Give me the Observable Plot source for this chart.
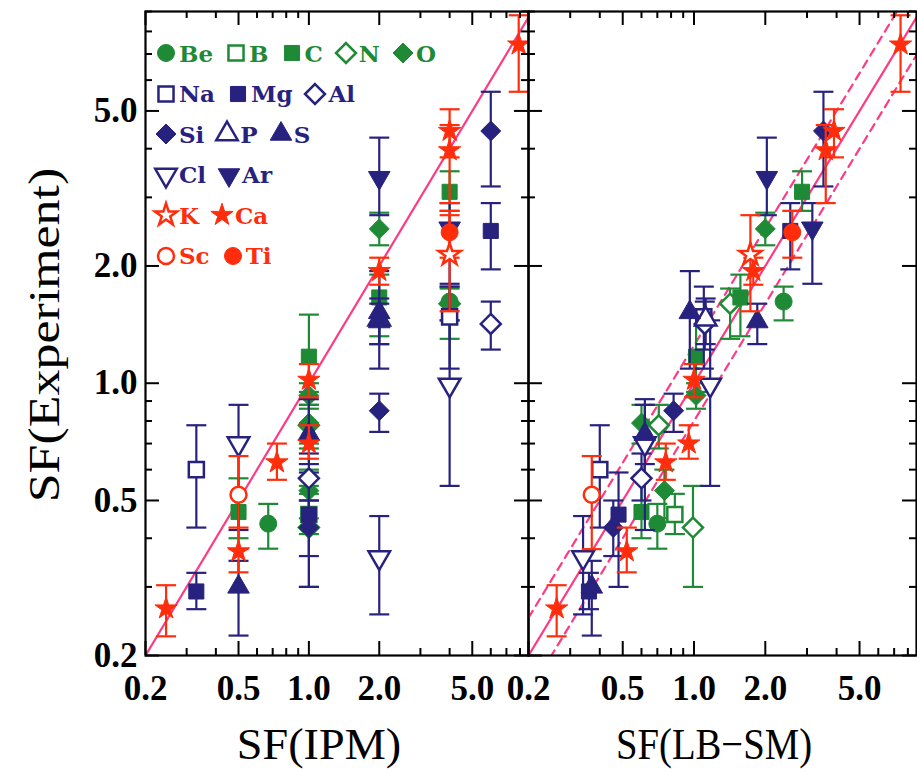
<!DOCTYPE html>
<html><head><meta charset="utf-8">
<script src="https://cdn.jsdelivr.net/npm/d3@7"></script>
<script src="https://cdn.jsdelivr.net/npm/@observablehq/plot@0.6"></script>
<style>
body{margin:0;background:#fff;}
#wrap{position:relative;width:917px;height:769px;overflow:hidden;background:#fff;}
#wrap > svg{position:absolute;top:0;overflow:visible;}
.ttl{position:absolute;font-family:"Liberation Serif",serif;font-size:44px;white-space:nowrap;color:#000;line-height:1;}
#legend{position:absolute;left:155px;top:33px;font-family:"DejaVu Serif",serif;font-weight:bold;font-size:23px;}
#legend .row{height:40.5px;display:flex;align-items:center;}
#legend .item{display:flex;align-items:center;margin-right:12px;}
#legend svg{margin-right:2px;overflow:visible;}
</style></head><body><div id="wrap"></div><script>
// ---------- data ----------
const elements     = ["Be","B","C","N","O","Na","Mg","Al","Si","P","S","Cl","Ar","K","Ca","Sc","Ti"];
const elementGroup = ["green","green","green","green","green","navy","navy","navy","navy","navy","navy","navy","navy","red","red","red","red"];
const legendRows   = [["Be","B","C","N","O"],["Na","Mg","Al"],["Si","P","S"],["Cl","Ar"],["K","Ca"],["Sc","Ti"]];

const pointElement = ["Ca","Mg","Na","S","Cl","Sc","C","Ca","Be","Ca",
                      "C","Ca","O","O","N","Ca","S","Al","O","B","Mg","N","Si",
                      "Ar","O","Ca","C","S","S","Si","Cl",
                      "Ca","Ca","C","Ar","Ti","K","Be","N","P","Na","Cl",
                      "Si","Mg","Al","Ca"];
const sfIPM  = [0.245,0.33,0.33,0.5,0.5,0.5,0.5,0.5,0.67,0.73,
                1.0,1.0,1.0,1.0,1.0,1.0,1.0,1.0,1.0,1.0,1.0,1.0,1.0,
                2.0,2.0,2.0,2.0,2.0,2.0,2.0,2.0,
                4.0,4.0,4.0,4.0,4.0,4.0,4.0,4.0,2.0,4.0,4.0,
                6.0,6.0,6.0,7.9];
const sfLBSM = [0.263,0.36,0.40,0.37,0.62,0.37,0.60,0.52,0.70,0.76,
                1.02,1.0,1.02,0.60,0.71,0.95,0.62,0.60,0.75,0.83,0.48,0.99,0.456,
                2.03,2.0,1.78,1.57,0.96,1.85,0.82,0.34,
                3.9,3.6,2.86,3.16,2.6,1.73,2.39,1.42,1.12,1.1,1.17,
                3.52,2.55,1.11,7.45];
const sfExp  = [0.264,0.292,0.60,0.30,0.70,0.517,0.467,0.37,0.436,0.626,
                1.17,1.02,0.93,0.79,0.78,0.70,0.74,0.57,0.53,0.46,0.46,0.426,0.426,
                3.37,2.49,1.94,1.66,1.52,1.44,0.85,0.357,
                4.44,3.96,3.1,2.5,2.44,2.14,1.62,1.6,1.46,1.48,0.99,
                4.44,2.46,1.42,7.4];
const errLow = [0.224,0.263,0.426,0.225,0.42,0.375,0.40,0.327,0.376,0.565,
                0.95,0.92,0.86,0.70,0.68,0.64,0.62,0.50,0.45,0.41,0.30,0.30,0.36,
                2.7,2.26,1.79,1.32,1.09,1.26,0.75,0.255,
                3.8,2.9,2.77,1.8,2.1,1.53,1.45,1.3,1.26,1.09,0.545,
                3.2,1.96,1.22,5.6];
const errHigh= [0.303,0.326,0.78,0.35,0.88,0.65,0.57,0.426,0.49,0.70,
                1.5,1.12,1.0,0.88,0.88,0.78,0.91,0.66,0.60,0.52,0.59,0.545,0.50,
                4.27,2.74,2.1,1.9,1.94,1.6,0.94,0.456,
                5.05,4.6,3.5,2.9,2.77,2.7,1.77,1.75,1.65,1.77,1.45,
                5.6,2.9,1.62,8.8];

const xMajor = [0.2,0.5,1,2,5];
const xMinor = [0.3,0.4,0.6,0.7,0.8,0.9,3,4,6,7,8];
const yMajor = [0.2,0.5,1,2,5];
const yMinor = [0.3,0.4,0.6,0.7,0.8,0.9,3,4,6,7,8,9];
const diagonal = [0.2, 9];
const bandFactors = [1.25, 0.8];

// ---------- styles ----------
const colors = {green:"#1f8a36", navy:"#28227f", red:"#ff2d0c"};
const lineColor = "#ff3a84";
const sqrt3 = Math.sqrt(3);
const triangleDown = {draw(ctx, size){const y=-Math.sqrt(size/(sqrt3*3)); ctx.moveTo(0,-y*2); ctx.lineTo(-sqrt3*y,y); ctx.lineTo(sqrt3*y,y); ctx.closePath();}};
const capSymbol = {draw(ctx, size){const r=Math.sqrt(size/Math.PI); ctx.moveTo(-r,0); ctx.lineTo(r,0);}};
const markerStyle = {
  Be:{symbol:d3.symbolCircle,filled:true,r:8.5}, B:{symbol:d3.symbolSquare,filled:false,r:8.5},
  C:{symbol:d3.symbolSquare,filled:true,r:8.5}, N:{symbol:d3.symbolDiamond2,filled:false,r:9},
  O:{symbol:d3.symbolDiamond2,filled:true,r:9}, Na:{symbol:d3.symbolSquare,filled:false,r:8.5},
  Mg:{symbol:d3.symbolSquare,filled:true,r:8.5}, Al:{symbol:d3.symbolDiamond2,filled:false,r:9},
  Si:{symbol:d3.symbolDiamond2,filled:true,r:9}, P:{symbol:d3.symbolTriangle,filled:false,r:8},
  S:{symbol:d3.symbolTriangle,filled:true,r:8}, Cl:{symbol:triangleDown,filled:false,r:8},
  Ar:{symbol:triangleDown,filled:true,r:8}, K:{symbol:d3.symbolStar,filled:false,r:7},
  Ca:{symbol:d3.symbolStar,filled:true,r:7}, Sc:{symbol:d3.symbolCircle,filled:false,r:8},
  Ti:{symbol:d3.symbolCircle,filled:true,r:8.5}
};
const groupOf = Object.fromEntries(elements.map((e,i)=>[e, elementGroup[i]]));

const H = 769, mTop = 11, mBottom = 114, innerH = H - mTop - mBottom;
const tickFont = {fontFamily:"Liberation Serif", fontWeight:"bold", fontSize:35};

function panel(xValues, {width, marginLeft, marginRight, showY, band}) {
  const innerW = width - marginLeft - marginRight;
  const data = pointElement.map((el,i)=>({el, x:xValues[i], y:sfExp[i], lo:errLow[i], hi:errHigh[i], g:groupOf[el]}));
  const marks = [];
  marks.push(Plot.line(diagonal, {x:d=>d, y:d=>d, stroke:lineColor, strokeWidth:2.2, clip:true}));
  if (band) for (const f of bandFactors)
    marks.push(Plot.line(diagonal, {x:d=>d, y:d=>d*f, stroke:lineColor, strokeWidth:2.2, strokeDasharray:"8,6", clip:true}));
  for (const g of ["green","navy","red"]) {
    const d = data.filter(p=>p.g===g);
    marks.push(Plot.ruleX(d, {x:"x", y1:"lo", y2:"hi", stroke:colors[g], strokeWidth:2.2, clip:true}));
    marks.push(Plot.dot(d, {x:"x", y:"lo", symbol:capSymbol, r:10, fill:"none", stroke:colors[g], strokeWidth:2.2, clip:true}));
    marks.push(Plot.dot(d, {x:"x", y:"hi", symbol:capSymbol, r:10, fill:"none", stroke:colors[g], strokeWidth:2.2, clip:true}));
    const els = elements.filter(e=>groupOf[e]===g);
    const ordered = [...els.filter(e=>!markerStyle[e].filled), ...els.filter(e=>markerStyle[e].filled)];
    for (const el of ordered) {
      const s = markerStyle[el];
      marks.push(Plot.dot(d.filter(p=>p.el===el), {x:"x", y:"y", symbol:s.symbol, r:s.r,
        fill: s.filled ? colors[g] : "white", stroke: colors[g], strokeWidth: s.filled ? 1 : 2.5, clip:true}));
    }
  }
  // inward ticks on all four sides
  marks.push(Plot.tickX(xMajor, {x:d=>d, insetTop:innerH-14, stroke:"black", strokeWidth:2}));
  marks.push(Plot.tickX(xMinor, {x:d=>d, insetTop:innerH-7, stroke:"black", strokeWidth:2}));
  marks.push(Plot.tickX(xMajor, {x:d=>d, insetBottom:innerH-14, stroke:"black", strokeWidth:2}));
  marks.push(Plot.tickX(xMinor, {x:d=>d, insetBottom:innerH-7, stroke:"black", strokeWidth:2}));
  marks.push(Plot.tickY(yMajor, {y:d=>d, insetRight:innerW-14, stroke:"black", strokeWidth:2}));
  marks.push(Plot.tickY(yMinor, {y:d=>d, insetRight:innerW-7, stroke:"black", strokeWidth:2}));
  marks.push(Plot.tickY(yMajor, {y:d=>d, insetLeft:innerW-14, stroke:"black", strokeWidth:2}));
  marks.push(Plot.tickY(yMinor, {y:d=>d, insetLeft:innerW-7, stroke:"black", strokeWidth:2}));
  marks.push(Plot.frame({stroke:"black", strokeWidth:2.2}));
  marks.push(Plot.axisX({ticks:xMajor, anchor:"bottom", tickSize:0, tickPadding:20, tickFormat:d3.format(".1f"), label:null, ...tickFont}));
  if (showY) marks.push(Plot.axisY({ticks:yMajor, anchor:"left", tickSize:0, tickPadding:8, tickFormat:d3.format(".1f"), label:null, ...tickFont}));
  return Plot.plot({
    width, height:H, marginLeft, marginRight, marginTop:mTop, marginBottom:mBottom,
    x:{type:"log", domain:[0.2, 8.7]},
    y:{type:"log", domain:[0.2, 9], axis: showY ? undefined : null},
    style:{background:"transparent", overflow:"visible"},
    marks
  });
}

const wrap = document.getElementById("wrap");
const left = panel(sfIPM, {width:528, marginLeft:145, marginRight:0, showY:true, band:false});
left.style.left = "0px";
const right = panel(sfLBSM, {width:389, marginLeft:0, marginRight:1, showY:false, band:true});
right.style.left = "528px";
wrap.appendChild(left);
wrap.appendChild(right);

// titles
function addTitle(text, cx, cy, rot, sx) {
  const d = document.createElement("div");
  d.className = "ttl"; d.textContent = text;
  d.style.left = cx + "px"; d.style.top = cy + "px";
  d.style.transform = "translate(-50%,-50%)" + (rot ? " rotate(-90deg)" : "") + ` scaleX(${sx})`;
  wrap.appendChild(d);
}
addTitle("SF(IPM)", 319, 745, false, 1.05);
addTitle("SF(LB\u2212SM)", 714, 745, false, 0.88);
addTitle("SF(Experiment)", 45, 335, true, 1.18);

// legend
const lg = document.createElement("div"); lg.id = "legend";
for (const row of legendRows) {
  const r = document.createElement("div"); r.className = "row";
  for (const el of row) {
    const s = markerStyle[el], c = colors[groupOf[el]];
    const it = document.createElement("div"); it.className = "item";
    const path = d3.symbol().type(s.symbol).size(Math.PI*s.r*s.r)();
    it.innerHTML = `<svg width="22" height="22" viewBox="-11 -11 22 22"><path d="${path}" fill="${s.filled?c:"white"}" stroke="${c}" stroke-width="${s.filled?1:2.5}"/></svg><span style="color:${c}">${el}</span>`;
    r.appendChild(it);
  }
  lg.appendChild(r);
}
wrap.appendChild(lg);
</script></body></html>
